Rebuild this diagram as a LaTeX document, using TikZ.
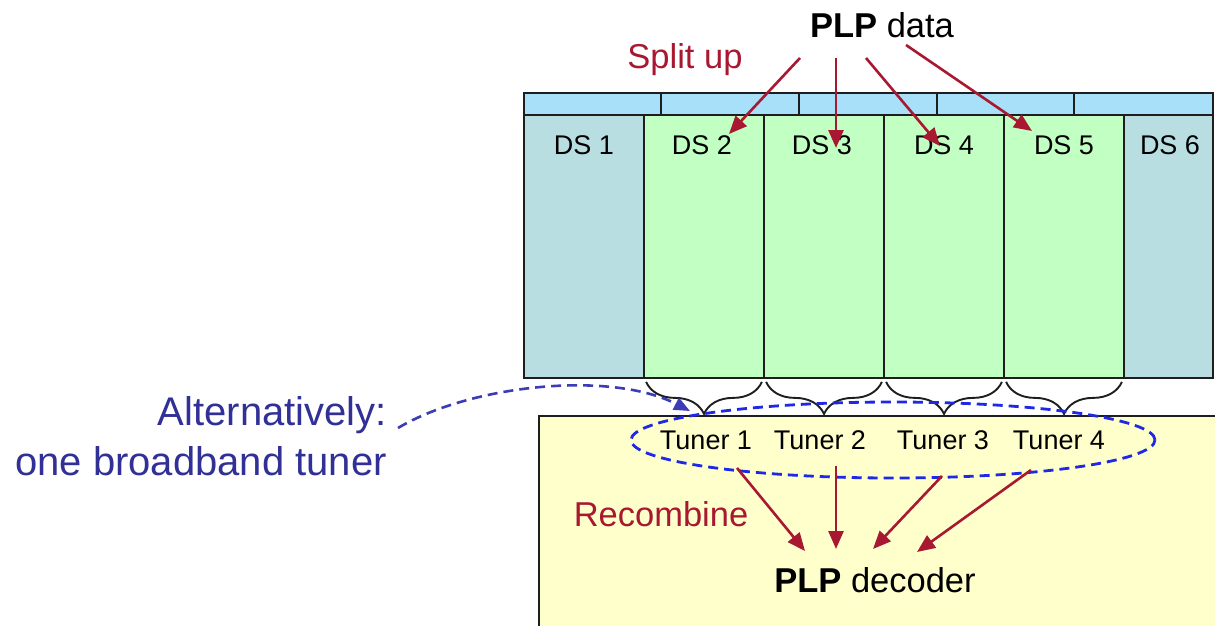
\documentclass[tikz,border=0pt]{standalone}
\usepackage{fontspec}
\setmainfont{Liberation Sans}
\usetikzlibrary{arrows.meta,shapes.geometric,decorations.pathreplacing}
\definecolor{stripblue}{RGB}{168,224,250}
\definecolor{dsblue}{RGB}{184,222,226}
\definecolor{dsgreen}{RGB}{194,255,194}
\definecolor{yellowbg}{RGB}{255,255,204}
\definecolor{bordergray}{RGB}{30,30,30}
\definecolor{arrred}{RGB}{168,24,48}
\definecolor{navytext}{RGB}{48,48,150}
\definecolor{ellblue}{RGB}{30,40,230}
\definecolor{curveblue}{RGB}{60,60,180}
\begin{document}
\begin{tikzpicture}[x=1pt,y=-1pt,
  stripbox/.style={draw=bordergray,line width=1.8pt,fill=stripblue,minimum height=22pt,inner sep=0pt},
  colbox/.style={draw=bordergray,line width=1.8pt,minimum height=263pt,inner sep=0pt},
  dslab/.style={font=\fontsize{27}{32}\selectfont,text=black,inner sep=0pt},
  tunerlab/.style={font=\fontsize{27}{32}\selectfont,text=black,inner sep=0pt},
  redlab/.style={font=\fontsize{34.5}{40}\selectfont,text=arrred,inner sep=0pt},
  blacklab/.style={font=\fontsize{34.5}{40}\selectfont,text=black,inner sep=0pt},
  redarrow/.style={draw=arrred,line width=2.6pt,-{Triangle[length=18pt,width=15pt]}},
  bracepath/.style={draw=bordergray,line width=1.9pt,decorate,decoration={brace,mirror,amplitude=32pt,aspect=0.5}},
  ]
\useasboundingbox (0,0) rectangle (1215,626);
\fill[white] (0,0) rectangle (1215,626);

% top strip
\node[stripbox,minimum width=137pt] (s1) at (592.5,104) {};
\node[stripbox,minimum width=138pt] (s2) at (730,104) {};
\node[stripbox,minimum width=138pt] (s3) at (868,104) {};
\node[stripbox,minimum width=137pt] (s4) at (1005.5,104) {};
\node[stripbox,minimum width=139pt] (s5) at (1143.5,104) {};

% columns
\node[colbox,fill=dsblue,minimum width=120pt] (ds1) at (584,246.5) {};
\node[colbox,fill=dsgreen,minimum width=120pt] (ds2) at (704,246.5) {};
\node[colbox,fill=dsgreen,minimum width=120pt] (ds3) at (824,246.5) {};
\node[colbox,fill=dsgreen,minimum width=120pt] (ds4) at (944,246.5) {};
\node[colbox,fill=dsgreen,minimum width=120pt] (ds5) at (1064,246.5) {};
\node[colbox,fill=dsblue,minimum width=89pt] (ds6) at (1168.5,246.5) {};

\node[dslab] (l1) at (584,145) {DS 1};
\node[dslab] (l2) at (702,145) {DS 2};
\node[dslab] (l3) at (822,145) {DS 3};
\node[dslab] (l4) at (944,145) {DS 4};
\node[dslab] (l5) at (1064,145) {DS 5};
\node[dslab] (l6) at (1170,145) {DS 6};

% yellow box
\node[draw=bordergray,fill=yellowbg,line width=1.8pt,minimum width=700pt,minimum height=230pt,inner sep=0pt,anchor=north west] (box) at (538,415) {};

% braces
\draw[bracepath] ([xshift=3pt,yshift=-3pt]ds2.south west) -- ([xshift=-3pt,yshift=-3pt]ds2.south east);
\draw[bracepath] ([xshift=3pt,yshift=-3pt]ds3.south west) -- ([xshift=-3pt,yshift=-3pt]ds3.south east);
\draw[bracepath] ([xshift=3pt,yshift=-3pt]ds4.south west) -- ([xshift=-3pt,yshift=-3pt]ds4.south east);
\draw[bracepath] ([xshift=3pt,yshift=-3pt]ds5.south west) -- ([xshift=-3pt,yshift=-3pt]ds5.south east);

% tuners
\node[tunerlab] (t1) at (706,440) {Tuner 1};
\node[tunerlab] (t2) at (820,440) {Tuner 2};
\node[tunerlab] (t3) at (943,440) {Tuner 3};
\node[tunerlab] (t4) at (1059,440) {Tuner 4};

% dashed ellipse
\node[ellipse,draw=ellblue,line width=2.8pt,dash pattern=on 10pt off 6pt,minimum width=524pt,minimum height=76pt,inner sep=0pt] (alt) at (893,440) {};

% alternatively text
\node[font=\fontsize{40}{50}\selectfont,text=navytext,align=right,anchor=east,inner sep=0pt] (altlab) at (387,436) {Alternatively:\\one broadband tuner};
\coordinate (c0) at (398,428);
\coordinate (c1) at (690,411);
\draw[curveblue,line width=2.6pt,dash pattern=on 10pt off 6pt,-{Triangle[length=16pt,width=13pt]}] (c0) .. controls (470,385) and (610,370) .. (c1);

% top labels
\node[blacklab] (plp) at (882,25) {\textbf{PLP} data};
\node[redlab] (split) at (685,60) {Split up};

\coordinate (a1) at (800,58);
\coordinate (a2) at (836,58);
\coordinate (a3) at (866,58);
\coordinate (a4) at (906,45);
\coordinate (e1) at (729,134);
\coordinate (e2) at (836,148);
\coordinate (e3) at (940,146);
\coordinate (e4) at (1032,131);
\draw[redarrow] (a1) -- (e1);
\draw[redarrow] (a2) -- (e2);
\draw[redarrow] (a3) -- (e3);
\draw[redarrow] (a4) -- (e4);

% bottom labels
\node[redlab] (recomb) at (661,514) {Recombine};
\node[blacklab] (dec) at (875,580) {\textbf{PLP} decoder};

\coordinate (b1) at (737,468);
\coordinate (b2) at (836,466);
\coordinate (b3) at (942,476);
\coordinate (b4) at (1031,470);
\coordinate (f1) at (805,551);
\coordinate (f2) at (836,549);
\coordinate (f3) at (873,549);
\coordinate (f4) at (917,552);
\draw[redarrow] (b1) -- (f1);
\draw[redarrow] (b2) -- (f2);
\draw[redarrow] (b3) -- (f3);
\draw[redarrow] (b4) -- (f4);
\end{tikzpicture}
\end{document}
